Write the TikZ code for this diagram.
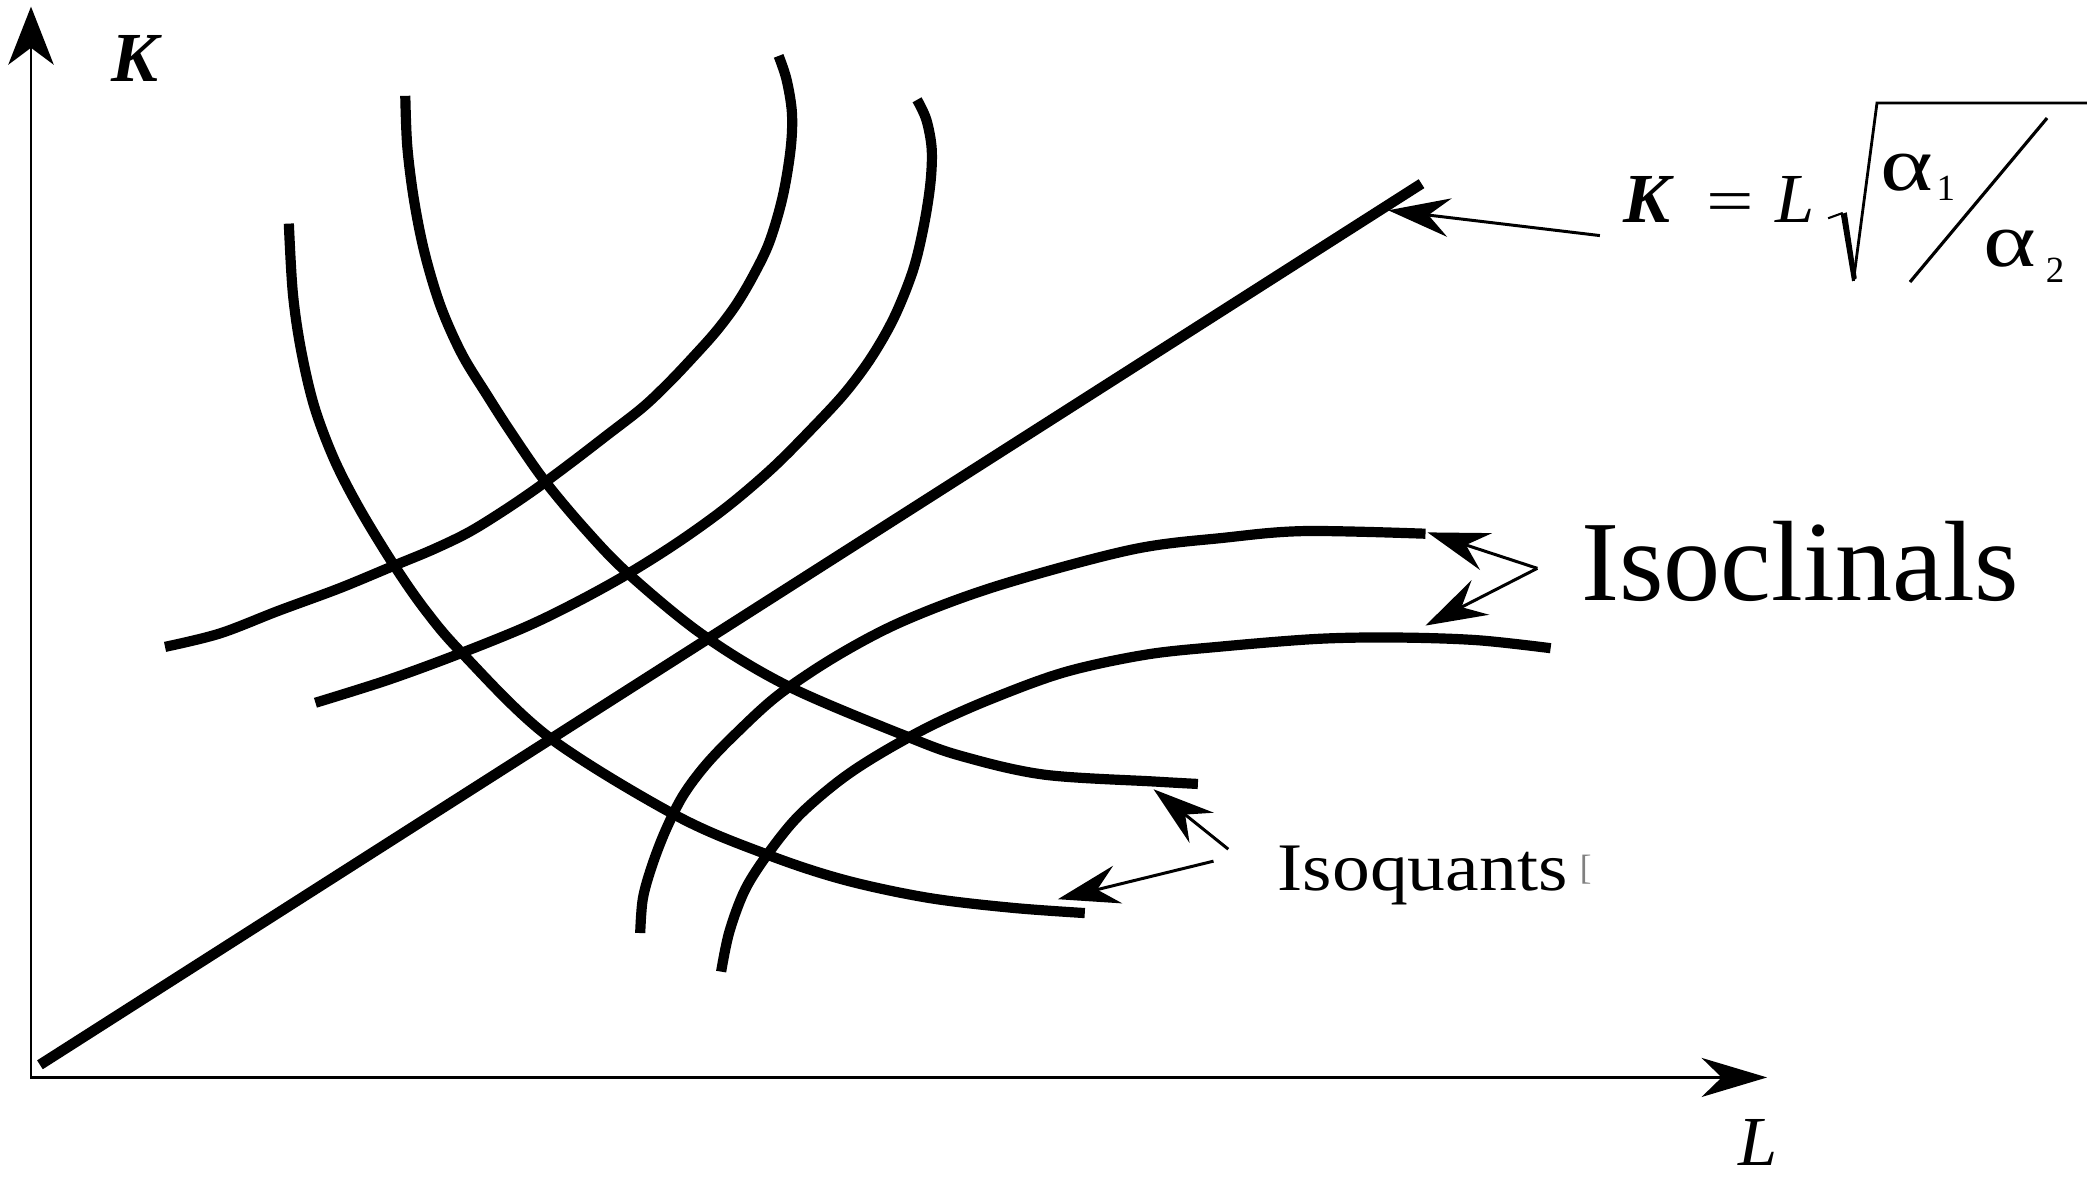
\documentclass[tikz,border=0pt]{standalone}
\usepackage{fontspec}
\setmainfont{Liberation Serif}
\usepackage{graphicx}
\usetikzlibrary{arrows.meta}
\begin{document}
\begin{tikzpicture}[x={(0.01331cm,0)},y={(0,-0.01331cm)},
  curve/.style={line width=2.9pt},
  axisline/.style={line width=0.8pt,line join=miter},
  pointer/.style={line width=0.85pt,-{Stealth[length=17.5pt,width=11pt,inset=6pt]}},
  lbl/.style={inner sep=0pt,outer sep=0pt,anchor=base west},
  big/.style={font=\fontsize{20}{24}\selectfont}]
\useasboundingbox (0,0) rectangle (1568,885);

% axes
\coordinate (O) at (23.3,809.5);
\coordinate (Ktop) at (23.3,5);
\coordinate (Lend) at (1327.6,809.5);
\draw[axisline,{Stealth[length=16.5pt,width=12.9pt,inset=4.8pt]}-{Stealth[length=18.6pt,width=11.1pt,inset=5.7pt]}] (Ktop) -- (O) -- (Lend);
\node[lbl,font=\fontsize{20}{24}\selectfont\bfseries\itshape] (Klab) at (84,61.6) {K};
\node[lbl,font=\fontsize{20}{24}\selectfont\itshape] (Llab) at (1306,876) {L};

% ray
\coordinate (rayA) at (30,800);
\coordinate (rayB) at (1068,138);
\draw[curve,line width=3pt] (rayA) -- (rayB);

% isoquants
\draw[curve] plot[smooth,tension=0.55] coordinates {(217,168) (220,220) (226,262) (236,305) (251,345) (270,382) (295.6,424) (320,459) (347.4,491) (412,553.5) (507.5,612.5) (575.7,641.8) (634,661) (697,674.5) (760,682) (815,686)};
\draw[curve] plot[smooth,tension=0.55] coordinates {(304.5,72) (306,110) (311,150) (319,190) (331,230) (347,266) (366,297) (384,325) (409,361) (440,398) (472,431) (528,477) (593,516) (683,554) (724,568.5) (784.5,582) (867.7,587.2) (900,589)};

% isoclinals
\draw[curve] plot[smooth,tension=0.55] coordinates {(124,486) (165,476) (209,459) (255,442) (296,425) (325,413) (352,400) (378,384) (403,367) (430,347) (456,327) (483,306) (503,287) (521,268) (538,249) (553,229) (566,207) (578,182) (588,148) (594,112) (595,85) (591,60) (585,42)};
\draw[curve] plot[smooth,tension=0.55] coordinates {(237,528) (291,511) (343,492) (395,471) (434,452) (472,431) (510,407) (546,381) (580,352) (610,322) (635,295) (655,268) (672,238) (686,203) (694,170) (699,138) (700,112) (696,90) (689,75)};
\draw[curve] plot[smooth,tension=0.55] coordinates {(481,701) (483,675) (490,650) (500,624) (513,598) (530,575) (552,552) (585,522) (630,492) (680,466) (750,440) (850,413) (920,404) (980,399) (1071,401)};
\draw[curve] plot[smooth,tension=0.55] coordinates {(541.8,730) (548,700) (560,668) (578,640) (600,613) (630,587) (660,567) (700,545) (745,525) (800,505) (860,492) (915,486) (990,480) (1050,479) (1110,481) (1165,487)};

% formula
\node[lbl,font=\fontsize{20}{24}\selectfont\bfseries\itshape] (fK) at (1220,166.8) {K};
\node[lbl,big] (feq) at (1282,166.8) {\scalebox{1.2}[0.9]{=}};
\node[lbl,font=\fontsize{20}{24}\selectfont\itshape] (fL) at (1334,166.8) {L};
\draw[line width=0.6pt] (1373.5,164) -- (1384.5,160);
\fill (1383,161) -- (1387.5,159.5) -- (1395,209) -- (1391.5,211.5) -- cycle;
\draw[line width=0.8pt] (1392.5,211) -- (1410.2,77.4) -- (1568,77.4);
\draw[line width=0.9pt] (1435,211.9) -- (1538,88.7);
\node[lbl,font=\fontsize{22}{26}\selectfont] (a1) at (1413,142.8) {\scalebox{1.3}[1]{α}};
\node[lbl,font=\fontsize{10.5}{12}\selectfont] (s1) at (1455,150.3) {1};
\node[lbl,font=\fontsize{22}{26}\selectfont] (a2) at (1490,200.6) {\scalebox{1.3}[1]{α}};
\node[lbl,font=\fontsize{10.5}{12}\selectfont] (s2) at (1537,212.6) {2};

% labels
\node[lbl,font=\fontsize{32.5}{38}\selectfont] (icl) at (1188,451) {Isoclinals};
\node[lbl,font=\fontsize{21.5}{26}\selectfont] (iqt) at (960,668.7) {\scalebox{1}[0.9]{Isoquants}};
\node[lbl,font=\fontsize{10}{12}\selectfont,text=gray] (iqbox) at (1187,661) {[};

% pointers
\coordinate (eqfoot) at (1202,177);
\coordinate (raytip) at (1043,158);
\draw[pointer] (eqfoot) -- (raytip);
\coordinate (iclfoot) at (1155,427);
\coordinate (c3tip) at (1072.5,400);
\coordinate (c4tip) at (1071,470);
\draw[pointer] (iclfoot) -- (c3tip);
\draw[pointer] (iclfoot) -- (c4tip);
\coordinate (iqfootA) at (922.8,638);
\coordinate (q2tip) at (866.7,593);
\coordinate (iqfootB) at (911.7,647);
\coordinate (q1tip) at (794.8,675.6);
\draw[pointer] (iqfootA) -- (q2tip);
\draw[pointer] (iqfootB) -- (q1tip);
\end{tikzpicture}
\end{document}
